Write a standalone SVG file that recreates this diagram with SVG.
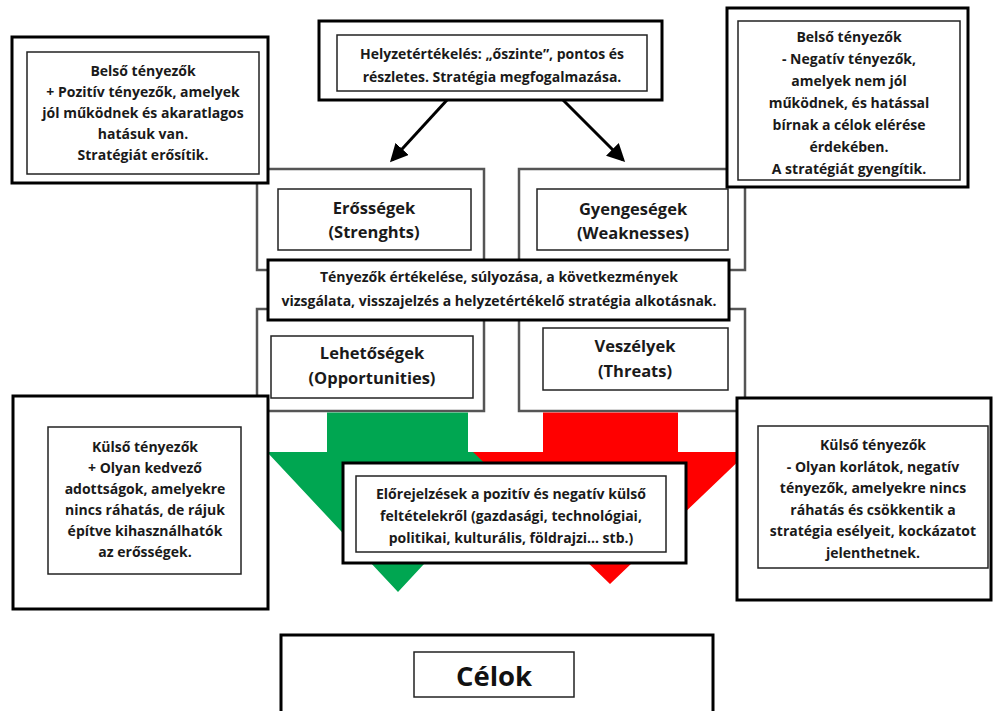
<svg xmlns="http://www.w3.org/2000/svg" width="994" height="711" viewBox="0 0 994 711">
<defs>
<style>
.outer{fill:#fff;stroke:#000;stroke-width:3}
.inner{fill:#fff;stroke:#222;stroke-width:1.5}
.quad{fill:#fff;stroke:#555;stroke-width:2.5}
.t{font-family:"Open Sans","Liberation Sans",sans-serif;font-weight:bold;font-size:14px;fill:#1a1a1a;text-anchor:middle}
.q{font-family:"Open Sans","Liberation Sans",sans-serif;font-weight:bold;font-size:16.5px;fill:#1a1a1a;text-anchor:middle}
.big{font-family:"Open Sans","Liberation Sans",sans-serif;font-weight:bold;font-size:27.5px;fill:#111;text-anchor:middle}
.conn{stroke:#000;stroke-width:3;fill:none}
</style>
<marker id="ah" markerWidth="6" markerHeight="6" refX="5" refY="3" orient="auto" markerUnits="strokeWidth">
<path d="M0,0 L6,3 L0,6 Z" fill="#000"/>
</marker>
</defs>
<rect width="994" height="711" fill="#fff"/>

<g id="strengths">
<rect class="quad" x="257" y="169" width="227" height="101"/>
<rect class="inner" x="278" y="189" width="193" height="61"/>
<text class="q" x="374" y="214">Erősségek</text>
<text class="q" x="374" y="238">(Strenghts)</text>
</g>
<g id="weaknesses">
<rect class="quad" x="519" y="169" width="226" height="101"/>
<rect class="inner" x="537" y="189" width="191" height="61"/>
<text class="q" x="633" y="215">Gyengeségek</text>
<text class="q" x="633" y="239">(Weaknesses)</text>
</g>
<g id="opportunities">
<rect class="quad" x="257" y="309" width="227" height="102"/>
<rect class="inner" x="271" y="336" width="202" height="62"/>
<text class="q" x="372" y="359">Lehetőségek</text>
<text class="q" x="372" y="384">(Opportunities)</text>
</g>
<g id="threats">
<rect class="quad" x="519" y="309" width="226" height="102"/>
<rect class="inner" x="543" y="328" width="185" height="62"/>
<text class="q" x="635" y="352">Veszélyek</text>
<text class="q" x="635" y="377">(Threats)</text>
</g>

<g id="green-arrow">
<polygon points="327,412.5 468,412.5 468,452 528,452 398,592 267,452 327,452" fill="#00a651"/>
</g>
<g id="red-arrow">
<polygon points="543,412.5 678,412.5 678,452 748,452 610,584 473,452 543,452" fill="#ff0000"/>
</g>

<g id="internal-positive">
<rect class="outer" x="12" y="37" width="256" height="146"/>
<rect class="inner" x="27" y="52" width="232" height="122"/>
<text class="t" x="143" y="76">Belső tényezők</text>
<text class="t" x="143" y="97">+ Pozitív tényezők, amelyek</text>
<text class="t" x="143" y="118">jól működnek és akaratlagos</text>
<text class="t" x="143" y="139">hatásuk van.</text>
<text class="t" x="143" y="160">Stratégiát erősítik.</text>
</g>

<g id="situation">
<rect class="outer" x="319" y="21" width="343" height="79"/>
<rect class="inner" x="337" y="35" width="310" height="56"/>
<text class="t" x="492" y="59">Helyzetértékelés: „őszinte”, pontos és</text>
<text class="t" x="492" y="82">részletes. Stratégia megfogalmazása.</text>
</g>

<g id="internal-negative">
<rect class="outer" x="727" y="8" width="241" height="179"/>
<rect class="inner" x="738" y="21" width="222" height="159"/>
<text class="t" x="849" y="42">Belső tényezők</text>
<text class="t" x="849" y="64">- Negatív tényezők,</text>
<text class="t" x="849" y="86">amelyek nem jól</text>
<text class="t" x="849" y="108">működnek, és hatással</text>
<text class="t" x="849" y="130">bírnak a célok elérése</text>
<text class="t" x="849" y="152">érdekében.</text>
<text class="t" x="849" y="174">A stratégiát gyengítik.</text>
</g>

<g id="evaluation">
<rect class="outer" x="268" y="260" width="461" height="60"/>
<text class="t" x="499" y="282">Tényezők értékelése, súlyozása, a következmények</text>
<text class="t" x="499" y="306">vizsgálata, visszajelzés a helyzetértékelő stratégia alkotásnak.</text>
</g>

<g id="external-positive">
<rect class="outer" x="13" y="396" width="255" height="213"/>
<rect class="inner" x="48" y="427" width="193" height="147"/>
<text class="t" x="145" y="452">Külső tényezők</text>
<text class="t" x="145" y="473">+ Olyan kedvező</text>
<text class="t" x="145" y="494">adottságok, amelyekre</text>
<text class="t" x="145" y="515">nincs ráhatás, de rájuk</text>
<text class="t" x="145" y="536">építve kihasználhatók</text>
<text class="t" x="145" y="557">az erősségek.</text>
</g>

<g id="external-negative">
<rect class="outer" x="737" y="398" width="254" height="202"/>
<rect class="inner" x="758" y="426" width="230" height="142"/>
<text class="t" x="873" y="450">Külső tényezők</text>
<text class="t" x="873" y="471.5">- Olyan korlátok, negatív</text>
<text class="t" x="873" y="493">tényezők, amelyekre nincs</text>
<text class="t" x="873" y="514.5">ráhatás és csökkentik a</text>
<text class="t" x="873" y="536">stratégia esélyeit, kockázatot</text>
<text class="t" x="873" y="557.5">jelenthetnek.</text>
</g>

<g id="forecast">
<rect class="outer" x="343" y="463" width="343" height="100"/>
<rect class="inner" x="356" y="476" width="310" height="76"/>
<text class="t" x="511" y="499">Előrejelzések a pozitív és negatív külső</text>
<text class="t" x="511" y="521">feltételekről (gazdasági, technológiai,</text>
<text class="t" x="511" y="543">politikai, kulturális, földrajzi… stb.)</text>
</g>

<g id="goals">
<rect class="outer" x="281" y="635" width="432" height="90"/>
<rect class="inner" x="414" y="652" width="160" height="45"/>
<text class="big" x="494" y="686">Célok</text>
</g>

<g id="connectors">
<line class="conn" x1="447" y1="100" x2="392" y2="160" marker-end="url(#ah)"/>
<line class="conn" x1="563" y1="100" x2="623" y2="160" marker-end="url(#ah)"/>
</g>
</svg>
